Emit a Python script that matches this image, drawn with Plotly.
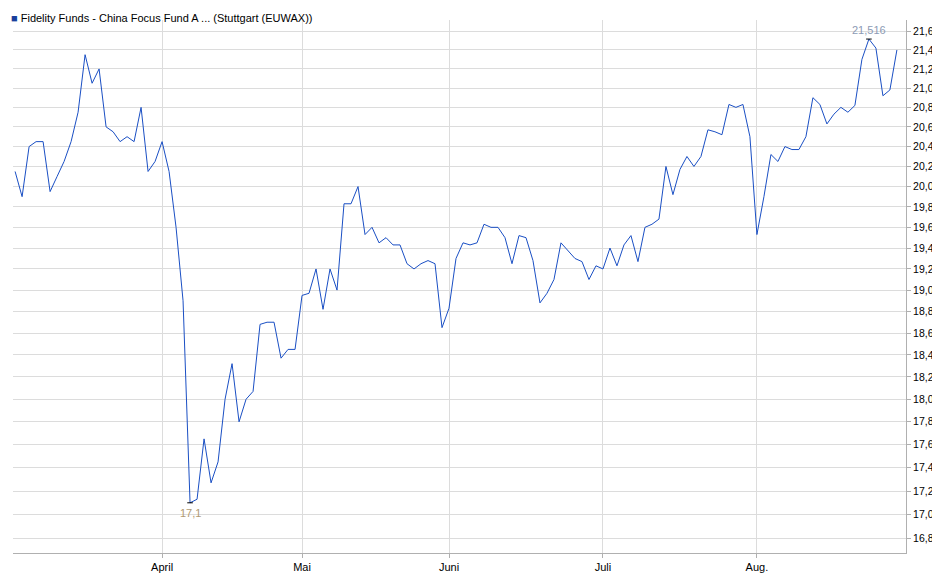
import math
import plotly.graph_objects as go

# Kurs (EUR), ein Wert pro Handelstag ab Anfang März
values = [20.15, 19.9, 20.4, 20.45, 20.45, 19.95, 20.1, 20.25, 20.45, 20.75,
          21.35, 21.05, 21.2, 20.6, 20.55, 20.45, 20.5, 20.45, 20.8, 20.15,
          20.25, 20.45, 20.15, 19.6, 18.9, 17.1, 17.13, 17.65, 17.27, 17.45,
          18.0, 18.32, 17.8, 18.0, 18.07, 18.68, 18.7, 18.7, 18.37, 18.45,
          18.45, 18.95, 18.97, 19.2, 18.82, 19.2, 19.0, 19.83, 19.83, 20.0,
          19.53, 19.6, 19.45, 19.5, 19.43, 19.43, 19.25, 19.2, 19.25, 19.28,
          19.25, 18.65, 18.83, 19.3, 19.45, 19.43, 19.45, 19.63, 19.6, 19.6,
          19.5, 19.25, 19.52, 19.5, 19.28, 18.88, 18.97, 19.1, 19.45, 19.38,
          19.3, 19.27, 19.1, 19.23, 19.2, 19.4, 19.23, 19.43, 19.52, 19.27,
          19.6, 19.63, 19.68, 20.2, 19.92, 20.17, 20.3, 20.2, 20.3, 20.57,
          20.55, 20.52, 20.83, 20.8, 20.83, 20.5, 19.53, 19.9, 20.32, 20.25,
          20.4, 20.37, 20.37, 20.5, 20.9, 20.83, 20.63, 20.73, 20.8, 20.75,
          20.82, 21.3, 21.516, 21.42, 20.92, 20.98, 21.4]
days = list(range(len(values)))

# erster Handelstag jedes Monats (Index)
month_idx = [21, 41, 62, 84, 106]
month_text = ["April", "Mai", "Juni", "Juli", "Aug."]
y_ticks = [16.8 + 0.2 * i for i in range(25)]
y_text = [f"{v:.1f}".replace(".", ",") for v in y_ticks]

i_max = values.index(max(values))
i_min = values.index(min(values))

fig = go.Figure()
fig.add_trace(go.Scatter(x=days, y=values, mode="lines",
                         line=dict(color="#1a4fc4", width=1), showlegend=False))
# kleine Markierungen an Hoch und Tief
for i in (i_max, i_min):
    fig.add_trace(go.Scatter(x=[i - 0.4, i + 0.4], y=[values[i], values[i]], mode="lines",
                             line=dict(color="black", width=1), showlegend=False))

fig.add_annotation(x=i_max, y=math.log10(values[i_max]), text="21,516",
                   showarrow=False, yshift=9, font=dict(color="#8c9bb5", size=11))
fig.add_annotation(x=i_min, y=math.log10(values[i_min]), text="17,1",
                   showarrow=False, yshift=-10, font=dict(color="#b09a72", size=11))
fig.add_annotation(x=0, y=1, xref="paper", yref="paper", xanchor="left", yanchor="bottom",
                   xshift=-4, yshift=-6,
                   text="<span style='color:#1a3f9c'>■</span> Fidelity Funds - China Focus Fund A ... (Stuttgart (EUWAX))",
                   showarrow=False, font=dict(size=11, color="black"))

fig.update_layout(
    width=940, height=579,
    margin=dict(l=5, r=42, t=12, b=34),
    paper_bgcolor="white", plot_bgcolor="white",
    font=dict(family="Liberation Sans, Arial", size=11, color="black"),
    xaxis=dict(range=[-0.3, 127.3], tickvals=month_idx, ticktext=month_text, automargin=False,
               showgrid=True, gridcolor="#dcdcdc", showline=True, linecolor="#b0b0b0",
               ticks="outside", ticklen=4, tickcolor="#b0b0b0", zeroline=False),
    yaxis=dict(type="log", side="right", range=[math.log10(16.68), math.log10(21.72)],
               tickvals=y_ticks, ticktext=y_text, showgrid=True, gridcolor="#dcdcdc",
               showline=True, linecolor="#b0b0b0", ticks="outside", ticklen=4, automargin=False,
               tickcolor="#b0b0b0", zeroline=False, tickfont=dict(size=10.5)),
)

fig.write_html("out.html")
